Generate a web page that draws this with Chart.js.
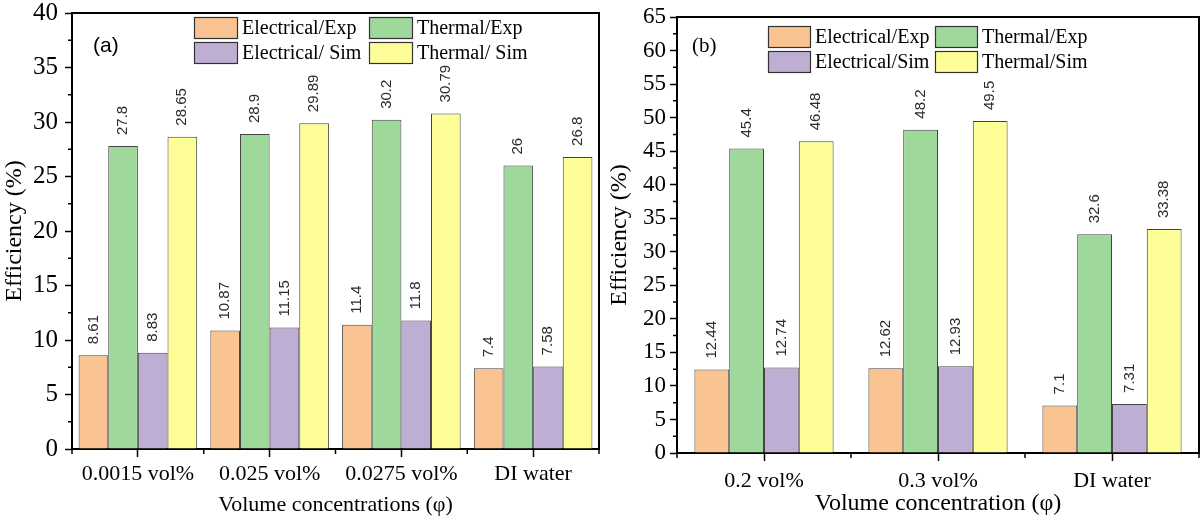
<!DOCTYPE html>
<html>
<head>
<meta charset="utf-8">
<script src="https://cdn.jsdelivr.net/npm/chart.js@4.4.1/dist/chart.umd.min.js"></script>
<style>
  html, body { margin: 0; padding: 0; background: #fff; }
  #wrap { position: relative; width: 1203px; height: 519px; }
  canvas { position: absolute; top: 0; }
  #chartA { left: 0; }
  #chartB { left: 605px; }
</style>
</head>
<body>
<div id="wrap">
  <canvas id="chartA" width="605" height="519"></canvas>
  <canvas id="chartB" width="598" height="519"></canvas>
</div>
<script>
// panel (a)
const catsA = ['0.0015 vol%', '0.025 vol%', '0.0275 vol%', 'DI water'];
const namesA = ['Electrical/Exp', 'Thermal/Exp', 'Electrical/ Sim', 'Thermal/ Sim'];
const elecExpA = [8.61, 10.87, 11.4, 7.4];
const thermExpA = [27.8, 28.9, 30.2, 26];
const elecSimA = [8.83, 11.15, 11.8, 7.58];
const thermSimA = [28.65, 29.89, 30.79, 26.8];

// panel (b)
const catsB = ['0.2 vol%', '0.3 vol%', 'DI water'];
const namesB = ['Electrical/Exp', 'Thermal/Exp', 'Electrical/Sim', 'Thermal/Sim'];
const elecExpB = [12.44, 12.62, 7.1];
const thermExpB = [45.4, 48.2, 32.6];
const elecSimB = [12.74, 12.93, 7.31];
const thermSimB = [46.48, 49.5, 33.38];

const barColors = ['#F9C491', '#9ED89B', '#BEAED4', '#FEFE99'];
const serif = "'Liberation Serif', 'Times New Roman', serif";
const sans = "'Liberation Sans', Arial, sans-serif";

// top/right frame + minor ticks
const frameTicks = {
    id: 'frameTicks',
    afterDraw(chart) {
        const { ctx, chartArea: a, scales: { x, y } } = chart;
        ctx.save();
        ctx.strokeStyle = '#000';
        ctx.lineWidth = 2;
        ctx.beginPath();
        ctx.moveTo(a.left, a.top);
        ctx.lineTo(a.right, a.top);
        ctx.lineTo(a.right, a.bottom);
        ctx.stroke();
        ctx.lineWidth = 1.5;
        ctx.beginPath();
        for (let v = 2.5; v < y.max; v += 5) {
            const py = y.getPixelForValue(v);
            ctx.moveTo(a.left - 4, py);
            ctx.lineTo(a.left, py);
        }
        const n = chart.data.labels.length;
        for (let i = 0; i <= n; i++) {
            const px = x.getPixelForValue(i - 0.5);
            ctx.moveTo(px, a.bottom);
            ctx.lineTo(px, a.bottom + 5);
        }
        ctx.stroke();
        ctx.restore();
    }
};

// rotated value labels above bars
const barLabels = {
    id: 'barLabels',
    afterDatasetsDraw(chart) {
        const { ctx } = chart;
        ctx.save();
        ctx.font = '15px ' + sans;
        ctx.fillStyle = '#2b2b2b';
        ctx.textAlign = 'left';
        ctx.textBaseline = 'middle';
        chart.data.datasets.forEach((ds, i) => {
            chart.getDatasetMeta(i).data.forEach((bar, j) => {
                ctx.save();
                ctx.translate(bar.x, bar.y - 11);
                ctx.rotate(-Math.PI / 2);
                ctx.fillText(String(ds.data[j]), 0, 0);
                ctx.restore();
            });
        });
        ctx.restore();
    }
};

// 2x2 legend + panel tag
const boxLegend = {
    id: 'boxLegend',
    afterDraw(chart, args, o) {
        const { ctx } = chart;
        ctx.save();
        chart.data.datasets.forEach((ds, i) => {
            const bx = o.cols[i % 2], cy = o.rows[Math.floor(i / 2)];
            ctx.fillStyle = ds.backgroundColor;
            ctx.fillRect(bx, cy - o.boxH / 2, o.boxW, o.boxH);
            ctx.strokeStyle = '#333';
            ctx.lineWidth = 1.2;
            ctx.strokeRect(bx + 0.5, cy - o.boxH / 2 + 0.5, o.boxW - 1, o.boxH - 1);
            ctx.fillStyle = '#000';
            ctx.font = o.fontSize + 'px ' + serif;
            ctx.textAlign = 'left';
            ctx.textBaseline = 'middle';
            ctx.fillText(ds.label, bx + o.boxW + 4, cy + 1);
        });
        ctx.font = o.tagFont;
        ctx.fillStyle = '#000';
        ctx.textAlign = 'left';
        ctx.textBaseline = 'middle';
        ctx.fillText(o.tag, o.tagX, o.tagY);
        ctx.restore();
    }
};

function makeChart(id, cats, names, series, p) {
    return new Chart(document.getElementById(id), {
        type: 'bar',
        data: {
            labels: cats,
            datasets: series.map((d, i) => ({
                label: names[i],
                data: d,
                backgroundColor: barColors[i],
                borderColor: '#444',
                borderWidth: 1,
                categoryPercentage: p.catPct,
                barPercentage: 1
            }))
        },
        options: {
            responsive: false,
            animation: false,
            layout: { padding: { top: p.top, right: p.right, left: 0, bottom: 0 } },
            plugins: {
                legend: { display: false },
                tooltip: { enabled: false },
                boxLegend: p.legend
            },
            scales: {
                x: {
                    grid: { offset: false, drawOnChartArea: false, tickLength: 8, tickColor: '#000', tickWidth: 1.5 },
                    border: { color: '#000', width: 2 },
                    ticks: { color: '#000', font: { family: serif, size: 22 }, padding: p.xPad, maxRotation: 0, autoSkip: false },
                    title: { display: true, text: p.xTitle, color: '#000', font: { family: serif, size: p.xTitleSize }, padding: { top: 0, bottom: 1 } },
                    afterFit(s) { s.height = p.xH; s.paddingLeft = 0; s.paddingRight = 0; }
                },
                y: {
                    min: 0,
                    max: p.yMax,
                    grid: { drawOnChartArea: false, tickLength: 7, tickColor: '#000', tickWidth: 1.5 },
                    border: { color: '#000', width: 2 },
                    ticks: { stepSize: 5, color: '#000', font: { family: serif, size: p.yTickSize }, padding: p.yPad },
                    title: { display: true, text: 'Efficiency (%)', color: '#000', font: { family: serif, size: 24 }, padding: { top: 0, bottom: 0 } },
                    afterFit(s) { s.width = 72; s.paddingTop = 0; s.paddingBottom = 0; }
                }
            }
        },
        plugins: [frameTicks, barLabels, boxLegend]
    });
}

makeChart('chartA', catsA, namesA, [elecExpA, thermExpA, elecSimA, thermSimA], {
    catPct: 0.9, top: 13, right: 6, xH: 70, xPad: 4, yMax: 40, yTickSize: 25, yPad: 7,
    xTitle: 'Volume concentrations (\u03c6)', xTitleSize: 22,
    legend: { cols: [194, 369], rows: [28, 53], boxW: 44, boxH: 22, fontSize: 20,
              tag: '(a)', tagX: 93, tagY: 46, tagFont: '21px ' + sans }
});

makeChart('chartB', catsB, namesB, [elecExpB, thermExpB, elecSimB, thermSimB], {
    catPct: 0.8, top: 17, right: 4, xH: 66, xPad: 7, yMax: 65, yTickSize: 23, yPad: 4,
    xTitle: 'Volume concentration (\u03c6)', xTitleSize: 24,
    legend: { cols: [163, 330], rows: [37, 62], boxW: 43, boxH: 22, fontSize: 20,
              tag: '(b)', tagX: 87, tagY: 46, tagFont: '21px ' + serif }
});
</script>
</body>
</html>
